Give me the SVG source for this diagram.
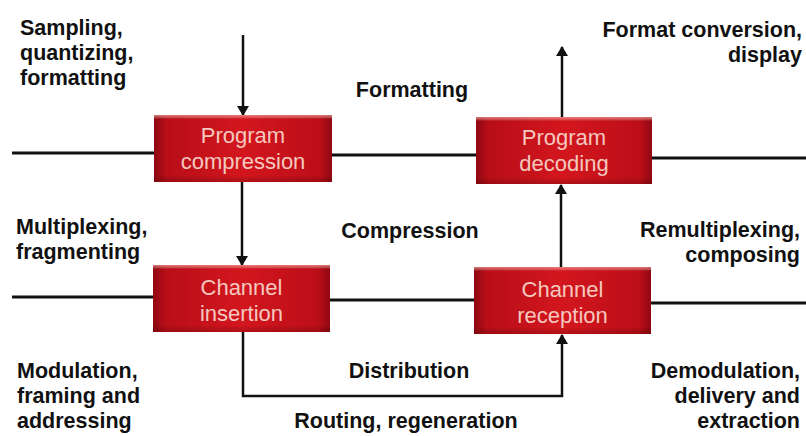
<svg xmlns="http://www.w3.org/2000/svg" width="806" height="436" viewBox="0 0 806 436">
<defs>
<linearGradient id="boxg" x1="0" y1="0" x2="1" y2="0">
<stop offset="0" stop-color="#8e0812"/>
<stop offset="0.07" stop-color="#b80e18"/>
<stop offset="0.5" stop-color="#d3161e"/>
<stop offset="0.93" stop-color="#bc0e18"/>
<stop offset="1" stop-color="#900812"/>
</linearGradient>
<linearGradient id="boxv" x1="0" y1="0" x2="0" y2="1">
<stop offset="0" stop-color="#f0a090" stop-opacity="0.7"/>
<stop offset="0.06" stop-color="#ffffff" stop-opacity="0"/>
<stop offset="0.9" stop-color="#000000" stop-opacity="0"/>
<stop offset="1" stop-color="#500000" stop-opacity="0.25"/>
</linearGradient>
<marker id="ah" viewBox="0 0 10 12" refX="9" refY="6" markerWidth="10" markerHeight="12" markerUnits="userSpaceOnUse" orient="auto">
<path d="M0,0 L10,6 L0,12 Z" fill="#111"/>
</marker>
<style>
.box{fill:url(#boxg)}
.shade{fill:url(#boxv)}
.bt{font-family:"Liberation Sans",Arial,sans-serif;font-size:22px;fill:#f4c8bf;text-anchor:middle}
.lbl{font-family:"Liberation Sans",Arial,sans-serif;font-size:21.5px;font-weight:bold;fill:#111}
.r{text-anchor:end}
.c{text-anchor:middle}
.ln{stroke:#111;stroke-width:3;fill:none}
.ar{stroke:#111;stroke-width:2.5;fill:none;marker-end:url(#ah)}
</style>
</defs>
<rect width="806" height="436" fill="#ffffff"/>
<g id="connectors">
<line class="ln" x1="12" y1="153" x2="154" y2="153"/>
<line class="ln" x1="332" y1="155" x2="476" y2="155"/>
<line class="ln" x1="652" y1="158" x2="806" y2="158"/>
<line class="ln" x1="12" y1="297" x2="153" y2="297"/>
<line class="ln" x1="330" y1="300" x2="474" y2="300"/>
<line class="ln" x1="651" y1="303" x2="806" y2="303"/>
<line class="ar" x1="243" y1="35" x2="243" y2="115"/>
<line class="ar" x1="562" y1="117" x2="562" y2="47"/>
<line class="ar" x1="242" y1="182" x2="242" y2="265"/>
<line class="ar" x1="561" y1="267" x2="561" y2="185"/>
<polyline class="ar" points="243,332 243,396 562,396 562,335"/>
</g>
<g id="program-compression">
<rect class="box" x="154" y="115" width="178" height="67"/>
<rect class="shade" x="154" y="115" width="178" height="67"/>
<text class="bt" x="243" y="143">Program</text>
<text class="bt" x="243" y="169">compression</text>
</g>
<g id="program-decoding">
<rect class="box" x="476" y="117" width="176" height="67"/>
<rect class="shade" x="476" y="117" width="176" height="67"/>
<text class="bt" x="564" y="145">Program</text>
<text class="bt" x="564" y="171">decoding</text>
</g>
<g id="channel-insertion">
<rect class="box" x="153" y="265" width="177" height="67"/>
<rect class="shade" x="153" y="265" width="177" height="67"/>
<text class="bt" x="241.5" y="295">Channel</text>
<text class="bt" x="241.5" y="321">insertion</text>
</g>
<g id="channel-reception">
<rect class="box" x="474" y="267" width="177" height="67"/>
<rect class="shade" x="474" y="267" width="177" height="67"/>
<text class="bt" x="562.5" y="297">Channel</text>
<text class="bt" x="562.5" y="323">reception</text>
</g>
<g id="labels">
<text class="lbl" x="20" y="35">Sampling,</text>
<text class="lbl" x="20" y="60">quantizing,</text>
<text class="lbl" x="20" y="85">formatting</text>
<text class="lbl c" x="412" y="97">Formatting</text>
<text class="lbl r" x="802" y="37">Format conversion,</text>
<text class="lbl r" x="802" y="62">display</text>
<text class="lbl" x="16" y="234">Multiplexing,</text>
<text class="lbl" x="16" y="259">fragmenting</text>
<text class="lbl c" x="410" y="238">Compression</text>
<text class="lbl r" x="800" y="237">Remultiplexing,</text>
<text class="lbl r" x="800" y="262">composing</text>
<text class="lbl" x="17" y="378">Modulation,</text>
<text class="lbl" x="17" y="403">framing and</text>
<text class="lbl" x="17" y="428">addressing</text>
<text class="lbl c" x="409" y="378">Distribution</text>
<text class="lbl c" x="406" y="428">Routing, regeneration</text>
<text class="lbl r" x="800" y="378">Demodulation,</text>
<text class="lbl r" x="800" y="403">delivery and</text>
<text class="lbl r" x="800" y="428">extraction</text>
</g>
</svg>
